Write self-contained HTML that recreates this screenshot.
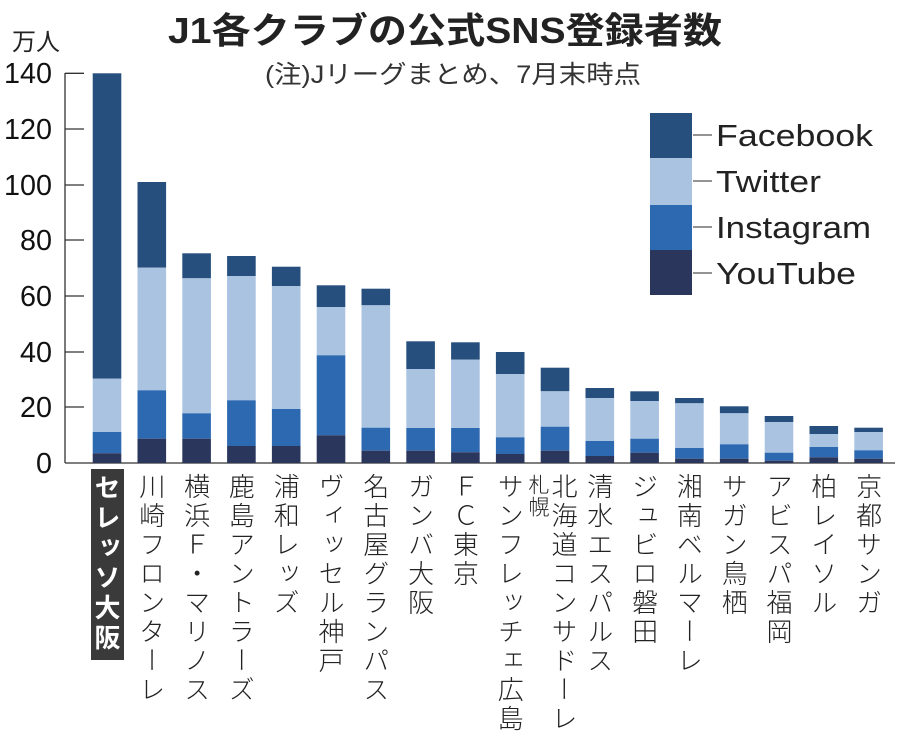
<!DOCTYPE html>
<html><head><meta charset="utf-8"><style>
html,body{margin:0;padding:0;background:#fff;}
#c{position:relative;width:900px;height:734px;overflow:hidden;font-family:"Liberation Sans","Noto Sans CJK JP",sans-serif;}
.v{position:absolute;writing-mode:vertical-rl;text-orientation:upright;font-family:"Noto Sans CJK JP",sans-serif;font-size:26px;line-height:26px;letter-spacing:3px;color:#222;font-weight:300;white-space:nowrap;}
</style></head><body><div id="c">
<svg width="900" height="734" style="position:absolute;left:0;top:0" xmlns="http://www.w3.org/2000/svg">
<text x="168" y="43" font-family="Liberation Sans,Noto Sans CJK JP,sans-serif" font-weight="bold" font-size="36" fill="#222" textLength="554" lengthAdjust="spacingAndGlyphs">J1各クラブの公式SNS登録者数</text>
<text x="265" y="83" font-family="Liberation Sans,Noto Sans CJK JP,sans-serif" font-size="25" fill="#333" textLength="376" lengthAdjust="spacingAndGlyphs">(注)Jリーグまとめ、7月末時点</text>
<text x="12" y="50" font-family="Noto Sans CJK JP,sans-serif" font-size="24" fill="#222">万人</text>
<g font-family="Liberation Sans,sans-serif" font-size="29" fill="#111" text-anchor="end">
<text x="52" y="83" textLength="48" lengthAdjust="spacingAndGlyphs">140</text>
<text x="52" y="139" textLength="48" lengthAdjust="spacingAndGlyphs">120</text>
<text x="52" y="195" textLength="48" lengthAdjust="spacingAndGlyphs">100</text>
<text x="52" y="250" textLength="32" lengthAdjust="spacingAndGlyphs">80</text>
<text x="52" y="306" textLength="32" lengthAdjust="spacingAndGlyphs">60</text>
<text x="52" y="362" textLength="32" lengthAdjust="spacingAndGlyphs">40</text>
<text x="52" y="417" textLength="32" lengthAdjust="spacingAndGlyphs">20</text>
<text x="52" y="473" textLength="16" lengthAdjust="spacingAndGlyphs">0</text>
</g>
<g stroke="#333" stroke-width="1.3">
<line x1="65" y1="73" x2="65" y2="463"/>
<line x1="65" y1="463" x2="895" y2="463"/>
<line x1="65" y1="73.3" x2="84" y2="73.3"/>
<line x1="65" y1="129" x2="84" y2="129"/>
<line x1="65" y1="185" x2="84" y2="185"/>
<line x1="65" y1="240" x2="84" y2="240"/>
<line x1="65" y1="296" x2="84" y2="296"/>
<line x1="65" y1="352" x2="84" y2="352"/>
<line x1="65" y1="407" x2="84" y2="407"/>
</g>
<g id="bars"></g>
<rect x="650" y="113" width="42" height="45" fill="#264f7d"/>
<rect x="650" y="158" width="42" height="47" fill="#a9c3e1"/>
<rect x="650" y="205" width="42" height="45" fill="#2d69b1"/>
<rect x="650" y="250" width="42" height="45" fill="#2a365c"/>
<g stroke="#555" stroke-width="1.3">
<line x1="693" y1="135" x2="712" y2="135"/><line x1="693" y1="181" x2="712" y2="181"/>
<line x1="693" y1="227" x2="712" y2="227"/><line x1="693" y1="273" x2="712" y2="273"/>
</g>
<g font-family="Liberation Sans,sans-serif" font-size="31" fill="#222">
<text x="716" y="146" textLength="157" lengthAdjust="spacingAndGlyphs">Facebook</text>
<text x="716" y="192" textLength="105" lengthAdjust="spacingAndGlyphs">Twitter</text>
<text x="716" y="238" textLength="155" lengthAdjust="spacingAndGlyphs">Instagram</text>
<text x="716" y="284" textLength="140" lengthAdjust="spacingAndGlyphs">YouTube</text>
</g>
</svg>
<div style="position:absolute;left:91px;top:469px;width:33px;height:191px;background:#3a3a3a;"></div>
<div class="v" style="left:94px;top:474px;color:#fff;font-weight:bold;letter-spacing:4px;">セレッソ大阪</div>
<div id="labels"></div>
</div>
<script>
var d=[[73.3,378.7,432,453.3],[182,267.7,390.3,438.7],[253.3,278.3,413.3,438.7],[256,276,400.3,446],[266.7,286,409,446],[285.3,307,355.3,435.3],[288.7,305.3,427.7,450.7],[341.3,369,428,450.7],[342.3,359.7,428,452.3],[352,374,437.3,454],[367.7,391.3,426.7,450.7],[388,398,441,456],[391.3,401,438.7,452.7],[398,403.3,448,458.7],[406.3,413.3,444.3,458.7],[416,422,452.7,460.7],[426,434,447,457.3],[427.7,432,450.3,458.7]];
var cols=["#264f7d","#a9c3e1","#2d69b1","#2a365c"],s="";
for(var i=0;i<d.length;i++){var x=92.7+44.8*i;var b=d[i].concat([463]);
for(var k=0;k<4;k++)s+='<rect x="'+x+'" y="'+b[k]+'" width="28.6" height="'+(b[k+1]-b[k])+'" fill="'+cols[k]+'"/>';}
document.getElementById('bars').innerHTML=s;
var L=["","川崎フロンターレ","横浜Ｆ・マリノス","鹿島アントラーズ","浦和レッズ","ヴィッセル神戸","名古屋グランパス","ガンバ大阪","ＦＣ東京","サンフレッチェ広島","北海道コンサドーレ","清水エスパルス","ジュビロ磐田","湘南ベルマーレ","サガン鳥栖","アビスパ福岡","柏レイソル","京都サンガ"];
var h="";for(var i=1;i<L.length;i++){var cx=92.7+44.8*i+14.3;var off=(i==10)?9:0;
h+='<div class="v" style="left:'+(cx-13+off)+'px;top:473px;">'+L[i]+'</div>';}
h+='<div class="v" style="left:528px;top:474px;font-size:21px;line-height:21px;letter-spacing:1px;">札幌</div>';
document.getElementById('labels').innerHTML=h;
</script>
</body></html>
